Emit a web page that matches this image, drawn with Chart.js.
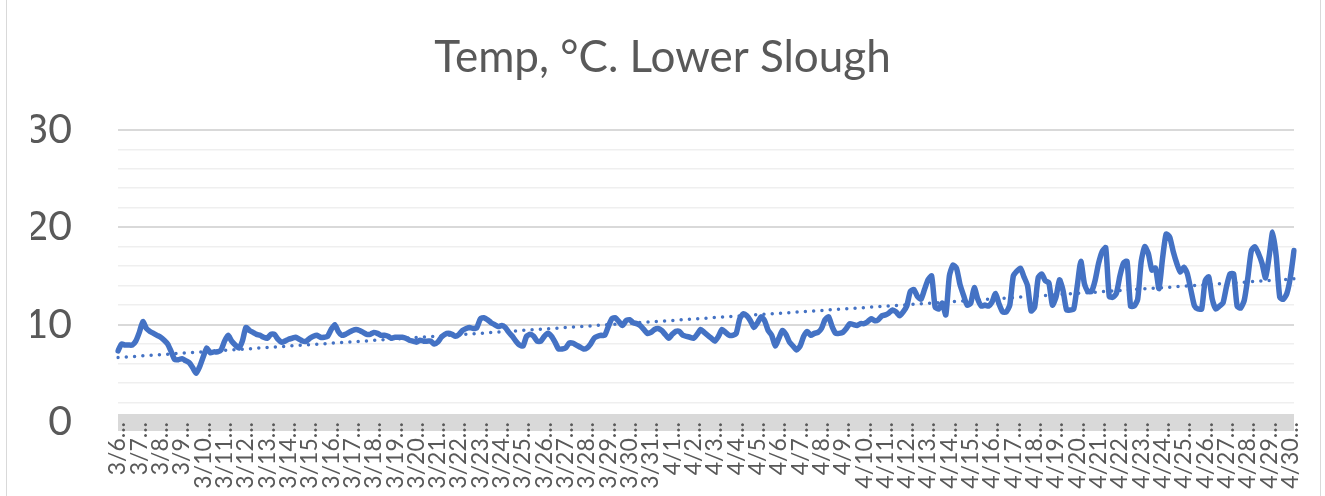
<!DOCTYPE html>
<html>
<head>
<meta charset="utf-8">
<style>
  html, body { margin: 0; padding: 0; background: #fff; }
  #frame { position: absolute; left: 6px; top: -4px; width: 1313px; height: 510px; border: 1px solid #d9d9d9; }
  #wrap { position: absolute; left: 0; top: 0; width: 1325px; height: 496px; }
</style>
<script src="https://cdn.jsdelivr.net/npm/chart.js"></script>
</head>
<body>
<div id="frame"></div>
<div id="wrap"><canvas id="myChart"></canvas></div>
<script>
    // one label per day, the sensor logged every 4 hours
    const dayLabels = ["3/6", "3/7", "3/8", "3/9", "3/10", "3/11", "3/12", "3/13", "3/14", "3/15", "3/16", "3/17", "3/18", "3/19", "3/20", "3/21", "3/22", "3/23", "3/24", "3/25", "3/26", "3/27", "3/28", "3/29", "3/30", "3/31",
        "4/1", "4/2", "4/3", "4/4", "4/5", "4/6", "4/7", "4/8", "4/9", "4/10", "4/11", "4/12", "4/13", "4/14", "4/15", "4/16", "4/17", "4/18", "4/19", "4/20", "4/21", "4/22", "4/23", "4/24", "4/25", "4/26", "4/27", "4/28", "4/29", "4/30"];
    const pointsPerDay = 6;

    const tempValues = [
        7.3, 8.0, 7.9, 7.9, 7.9, 8.3,
        9.2, 10.3, 9.6, 9.3, 9.1, 8.9,
        8.7, 8.4, 8.0, 7.2, 6.4, 6.4,
        6.5, 6.3, 6.1, 5.6, 5.0, 5.7,
        6.7, 7.6, 7.1, 7.2, 7.2, 7.4,
        8.3, 8.9, 8.3, 7.9, 7.6, 8.3,
        9.7, 9.4, 9.2, 9.0, 8.9, 8.7,
        8.6, 9.0, 9.0, 8.5, 8.2, 8.3,
        8.5, 8.6, 8.7, 8.5, 8.3, 8.3,
        8.6, 8.8, 8.9, 8.7, 8.7, 8.8,
        9.5, 10.0, 9.3, 8.9, 9.0, 9.2,
        9.4, 9.5, 9.4, 9.2, 9.0, 9.0,
        9.2, 9.1, 8.9, 8.9, 8.8, 8.6,
        8.7, 8.7, 8.7, 8.6, 8.4, 8.3,
        8.2, 8.4, 8.3, 8.3, 8.3, 8.0,
        8.2, 8.7, 9.0, 9.1, 9.0, 8.8,
        9.0, 9.4, 9.6, 9.7, 9.6, 9.7,
        10.6, 10.7, 10.5, 10.2, 10.0, 9.8,
        9.9, 9.7, 9.2, 8.8, 8.3, 7.9,
        7.8, 8.8, 9.0, 8.8, 8.3, 8.3,
        8.8, 9.1, 8.8, 8.2, 7.5, 7.5,
        7.6, 8.1, 8.1, 7.9, 7.7, 7.5,
        7.6, 8.0, 8.6, 8.8, 8.9, 8.9,
        9.8, 10.6, 10.7, 10.3, 9.9, 10.4,
        10.5, 10.2, 10.1, 9.9, 9.5, 9.1,
        9.2, 9.5, 9.6, 9.4, 9.0, 8.6,
        9.0, 9.3, 9.3, 8.9, 8.8, 8.7,
        8.6, 9.0, 9.5, 9.2, 8.9, 8.6,
        8.3, 8.8, 9.5, 9.2, 8.9, 8.9,
        9.1, 10.6, 11.1, 10.9, 10.4, 9.7,
        10.2, 10.8, 10.4, 9.4, 8.9, 7.8,
        8.6, 9.4, 9.0, 8.2, 7.8, 7.4,
        7.8, 8.8, 9.3, 8.9, 9.1, 9.2,
        9.6, 10.5, 10.8, 9.8, 9.1, 9.1,
        9.2, 9.6, 10.1, 10.0, 9.9, 10.1,
        10.1, 10.3, 10.6, 10.4, 10.5, 10.9,
        11.0, 11.2, 11.5, 11.3, 10.9, 11.3,
        11.9, 13.4, 13.6, 12.9, 12.6, 13.6,
        14.6, 15.0, 11.8, 11.6, 12.2, 11.0,
        15.0, 16.1, 15.8, 14.1, 13.0, 12.0,
        12.2, 13.8, 12.6, 11.9, 12.0, 11.9,
        12.3, 13.2, 12.1, 11.3, 11.3, 12.0,
        15.0, 15.5, 15.8, 14.9, 14.0, 11.4,
        11.8, 14.8, 15.2, 14.5, 14.3, 12.0,
        12.8, 14.6, 13.5, 11.5, 11.5, 11.6,
        14.0, 16.5, 14.2, 13.4, 13.4, 14.5,
        16.3, 17.5, 17.9, 12.9, 12.8, 13.2,
        15.0, 16.3, 16.5, 11.9, 11.9, 12.6,
        16.5, 18.0, 17.3, 15.6, 15.8, 13.7,
        16.8, 19.3, 19.0, 17.5, 16.3, 15.4,
        15.9, 15.2, 13.5, 11.9, 11.6, 11.6,
        14.5, 14.9, 12.6, 11.6, 11.9, 12.2,
        13.9, 15.2, 15.2, 11.9, 11.7, 12.5,
        14.8, 17.6, 18.0, 17.3, 16.3, 14.8,
        17.0, 19.5, 17.0, 12.8, 12.6, 13.2,
        14.9, 17.6
    ];

    const pointLabels = tempValues.map(function (v, i) {
        return dayLabels[Math.floor(i / pointsPerDay)];
    });

    // linear trendline (least squares), like Excel does
    var n = tempValues.length, sx = 0, sy = 0, sxy = 0, sxx = 0;
    tempValues.forEach(function (v, i) {
        sx += i; sy += v; sxy += i * v; sxx += i * i;
    });
    var slope = (n * sxy - sx * sy) / (n * sxx - sx * sx);
    var intercept = (sy - slope * sx) / n;
    var trendValues = tempValues.map(function (v, i) {
        return (i === 0 || i === n - 1) ? intercept + slope * i : null;
    });

    const textColor = '#595959';

    var myChart = new Chart(document.getElementById('myChart'), {
        type: 'line',
        data: {
            labels: pointLabels,
            datasets: [{
                label: 'Linear (Temp)',
                data: trendValues,
                spanGaps: true,
                borderColor: '#4472C4',
                borderWidth: 3.5,
                borderDash: [0, 8.3],
                borderCapStyle: 'round',
                pointRadius: 0
            }, {
                label: 'Temp',
                data: tempValues,
                borderColor: '#4472C4',
                borderWidth: 5.5,
                borderJoinStyle: 'round',
                borderCapStyle: 'round',
                tension: 0.2,
                pointRadius: 0
            }]
        },
        options: {
            responsive: true,
            maintainAspectRatio: false,
            animation: false,
            layout: { padding: { left: 31, right: 31, top: 0, bottom: 0 } },
            plugins: {
                legend: { display: false },
                tooltip: { enabled: false },
                title: {
                    display: true,
                    text: 'Temp, °C. Lower Slough',
                    color: textColor,
                    font: { family: 'Lato', size: 44, weight: 'normal' },
                    padding: { top: 31, bottom: 46 }
                }
            },
            scales: {
                x: {
                    grid: { display: false, drawTicks: false },
                    border: { display: false },
                    ticks: {
                        autoSkip: false,
                        minRotation: 90,
                        maxRotation: 90,
                        padding: 0,
                        color: textColor,
                        font: { family: 'Lato', size: 23 },
                        callback: function (v, i) {
                            return i % pointsPerDay === 0 ? dayLabels[i / pointsPerDay] + '...' : null;
                        }
                    },
                    afterFit: function (scale) { scale.height = 74; }
                },
                y: {
                    min: 0,
                    max: 30,
                    border: { display: false },
                    grid: {
                        drawTicks: false,
                        color: function (ctx) {
                            if (ctx.tick.value % 10 === 0) return '#d9d9d9';
                            return '#efefef';
                        },
                        lineWidth: function (ctx) {
                            if (ctx.tick.value === 0) return 17;
                            return ctx.tick.value % 10 === 0 ? 2 : 1.5;
                        }
                    },
                    ticks: {
                        stepSize: 2,
                        autoSkip: false,
                        padding: 46,
                        color: textColor,
                        font: { family: 'Lato', size: 41 },
                        callback: function (v) { return v % 10 === 0 ? v : ''; }
                    },
                    afterFit: function (scale) { scale.width = 87; }
                }
            }
        }
    });
</script>
</body>
</html>
